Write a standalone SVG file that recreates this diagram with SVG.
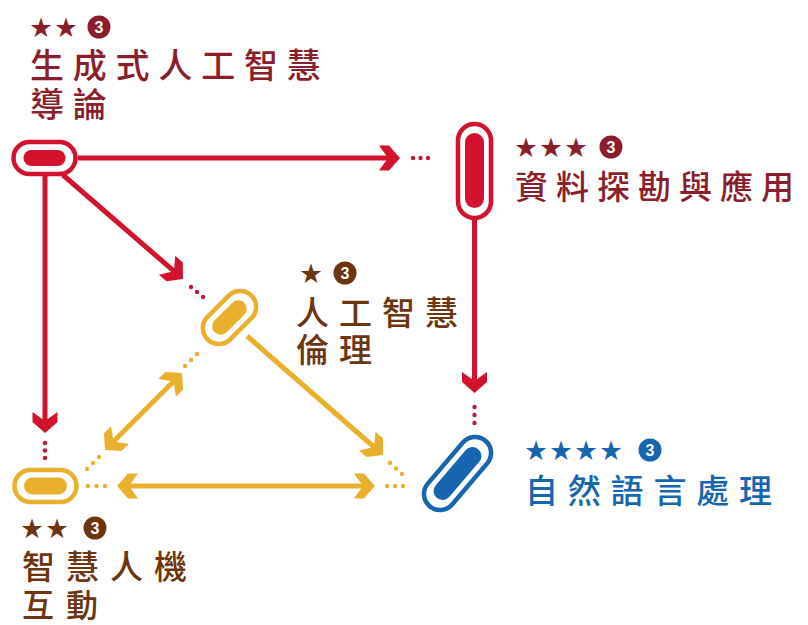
<svg xmlns="http://www.w3.org/2000/svg" width="808" height="625" viewBox="0 0 808 625">
<style>
.lbl{font-family:"Noto Sans CJK TC","Noto Sans CJK SC",sans-serif;font-weight:500;}
.big{font-size:34px;}
.star{font-family:"Noto Sans CJK TC","DejaVu Sans",sans-serif;font-size:22px;letter-spacing:3px;}
.num{font-family:"Liberation Sans",sans-serif;font-weight:bold;font-size:16px;fill:#fff;text-anchor:middle;}
.red{fill:none;stroke:#D3122E;stroke-width:5;}
.yel{fill:none;stroke:#E9B02E;stroke-width:5;}
.maroon{fill:#8B1E2D;}
.brown{fill:#6B3510;}
.blue{fill:#1765AF;}
.dr{fill:#C41535;}
.dy{fill:#E9B02E;}
</style>
<defs>
<marker id="ar" markerUnits="userSpaceOnUse" viewBox="-12 -14 26 28" markerWidth="26" markerHeight="28" refX="0" refY="0" orient="auto-start-reverse" overflow="visible">
<path d="M12,0 L1,-12.5 L-9,-12.5 L0,0 L-9,12.5 L1,12.5 Z" fill="#D3122E"/>
</marker>
<marker id="ay" markerUnits="userSpaceOnUse" viewBox="-12 -14 26 28" markerWidth="26" markerHeight="28" refX="0" refY="0" orient="auto-start-reverse" overflow="visible">
<path d="M12,0 L1,-12.5 L-9,-12.5 L0,0 L-9,12.5 L1,12.5 Z" fill="#E9B02E"/>
</marker>
</defs>

<g id="connectors">
<!-- node1 -> node2 -->
<line class="red" x1="78" y1="158" x2="388" y2="158" marker-end="url(#ar)"/>
<circle class="dr" cx="413" cy="158" r="2.2"/><circle class="dr" cx="420.5" cy="158" r="2.2"/><circle class="dr" cx="428" cy="158" r="2.2"/>
<!-- node1 -> node4 -->
<line class="red" x1="45" y1="176" x2="45" y2="421" marker-end="url(#ar)"/>
<circle class="dr" cx="45" cy="443" r="2.2"/><circle class="dr" cx="45" cy="450.5" r="2.2"/><circle class="dr" cx="45" cy="458" r="2.2"/>
<!-- node1 -> node3 -->
<line class="red" x1="63" y1="175" x2="173.9" y2="271.2" marker-end="url(#ar)"/>
<circle class="dr" cx="191" cy="287" r="2.2"/><circle class="dr" cx="197" cy="292" r="2.2"/><circle class="dr" cx="203" cy="297" r="2.2"/>
<!-- node2 -> node5 -->
<line class="red" x1="474.5" y1="220" x2="474.5" y2="381" marker-end="url(#ar)"/>
<circle class="dr" cx="474.5" cy="407" r="2.2"/><circle class="dr" cx="474.5" cy="415" r="2.2"/><circle class="dr" cx="474.5" cy="423" r="2.2"/>
<!-- node3 -> node5 -->
<line class="yel" x1="247" y1="336" x2="374" y2="447" marker-end="url(#ay)"/>
<circle class="dy" cx="390" cy="463" r="2.2"/><circle class="dy" cx="396" cy="468.5" r="2.2"/><circle class="dy" cx="402" cy="474" r="2.2"/>
<!-- node4 <-> node3 -->
<line class="yel" x1="113.5" y1="441.5" x2="173.5" y2="381.5" marker-start="url(#ay)" marker-end="url(#ay)"/>
<circle class="dy" cx="87" cy="469" r="2.2"/><circle class="dy" cx="93" cy="463" r="2.2"/><circle class="dy" cx="99" cy="457" r="2.2"/>
<circle class="dy" cx="185" cy="366" r="2.2"/><circle class="dy" cx="191" cy="360" r="2.2"/><circle class="dy" cx="197" cy="354" r="2.2"/>
<!-- node4 <-> node5 -->
<line class="yel" x1="129" y1="486" x2="363" y2="486" marker-start="url(#ay)" marker-end="url(#ay)"/>
<circle class="dy" cx="88" cy="486" r="2.2"/><circle class="dy" cx="96.5" cy="486" r="2.2"/><circle class="dy" cx="105" cy="486" r="2.2"/>
<circle class="dy" cx="387" cy="486" r="2.2"/><circle class="dy" cx="395" cy="486" r="2.2"/><circle class="dy" cx="403" cy="486" r="2.2"/>
</g>

<g id="node-genai">
<rect x="13.5" y="142" width="62" height="32" rx="16" fill="#fff" stroke="#D3122E" stroke-width="4.5"/>
<rect x="23.5" y="150" width="42" height="16" rx="8" fill="#D3122E"/>
<text class="lbl star maroon" x="30" y="35">★★</text>
<circle class="maroon" cx="99" cy="27" r="11.5"/><text class="num" x="99" y="32.5">3</text>
<text class="lbl big maroon" x="30" y="78" letter-spacing="8.8">生成式人工智慧</text>
<text class="lbl big maroon" x="30" y="117" letter-spacing="8.8">導論</text>
</g>

<g id="node-datamining">
<rect x="458" y="124" width="33" height="94" rx="16.5" fill="#fff" stroke="#D3122E" stroke-width="4.5"/>
<rect x="465" y="133" width="19" height="75" rx="9.5" fill="#D3122E"/>
<text class="lbl star maroon" x="515" y="155">★★★</text>
<circle class="maroon" cx="611" cy="147" r="11.5"/><text class="num" x="611" y="152.5">3</text>
<text class="lbl big maroon" x="515" y="199" style="font-size:33px" letter-spacing="8">資料探勘與應用</text>
</g>

<g id="node-ethics" transform="translate(229.5,317.5) rotate(-45)">
<rect x="-31" y="-16" width="62" height="32" rx="16" fill="#fff" stroke="#E9B02E" stroke-width="4.5"/>
<rect x="-21" y="-8.5" width="42" height="17" rx="8.5" fill="#E9B02E"/>
</g>
<g id="node-ethics-label">
<text class="lbl star brown" x="300" y="281">★</text>
<circle class="brown" cx="345" cy="273" r="11.5"/><text class="num" x="345" y="278.5">3</text>
<text class="lbl big brown" x="296" y="325" style="font-size:33px" letter-spacing="10">人工智慧</text>
<text class="lbl big brown" x="296" y="362" style="font-size:33px" letter-spacing="10">倫理</text>
</g>

<g id="node-hci">
<rect x="14.5" y="470" width="62" height="32" rx="16" fill="#fff" stroke="#E9B02E" stroke-width="4.5"/>
<rect x="24" y="477.5" width="43" height="17" rx="8.5" fill="#E9B02E"/>
<text class="lbl star brown" x="21" y="536">★★</text>
<circle class="brown" cx="95" cy="528" r="11.5"/><text class="num" x="95" y="533.5">3</text>
<text class="lbl big brown" x="22" y="579" style="font-size:33px" letter-spacing="11">智慧人機</text>
<text class="lbl big brown" x="22" y="617" style="font-size:32px" letter-spacing="12">互動</text>
</g>

<g id="node-nlp">
<g transform="translate(457.5,473.5) rotate(-49.5)">
<rect x="-43" y="-16" width="86" height="32" rx="16" fill="#fff" stroke="#1765AF" stroke-width="4.5"/>
<rect x="-32" y="-9" width="64" height="18" rx="9" fill="#1765AF"/>
</g>
<text class="lbl star blue" x="525" y="458">★★★★</text>
<circle class="blue" cx="650" cy="450" r="11.5"/><text class="num" x="650" y="455.5">3</text>
<text class="lbl big blue" x="525" y="503" style="font-size:33px" letter-spacing="9.8">自然語言處理</text>
</g>
</svg>
